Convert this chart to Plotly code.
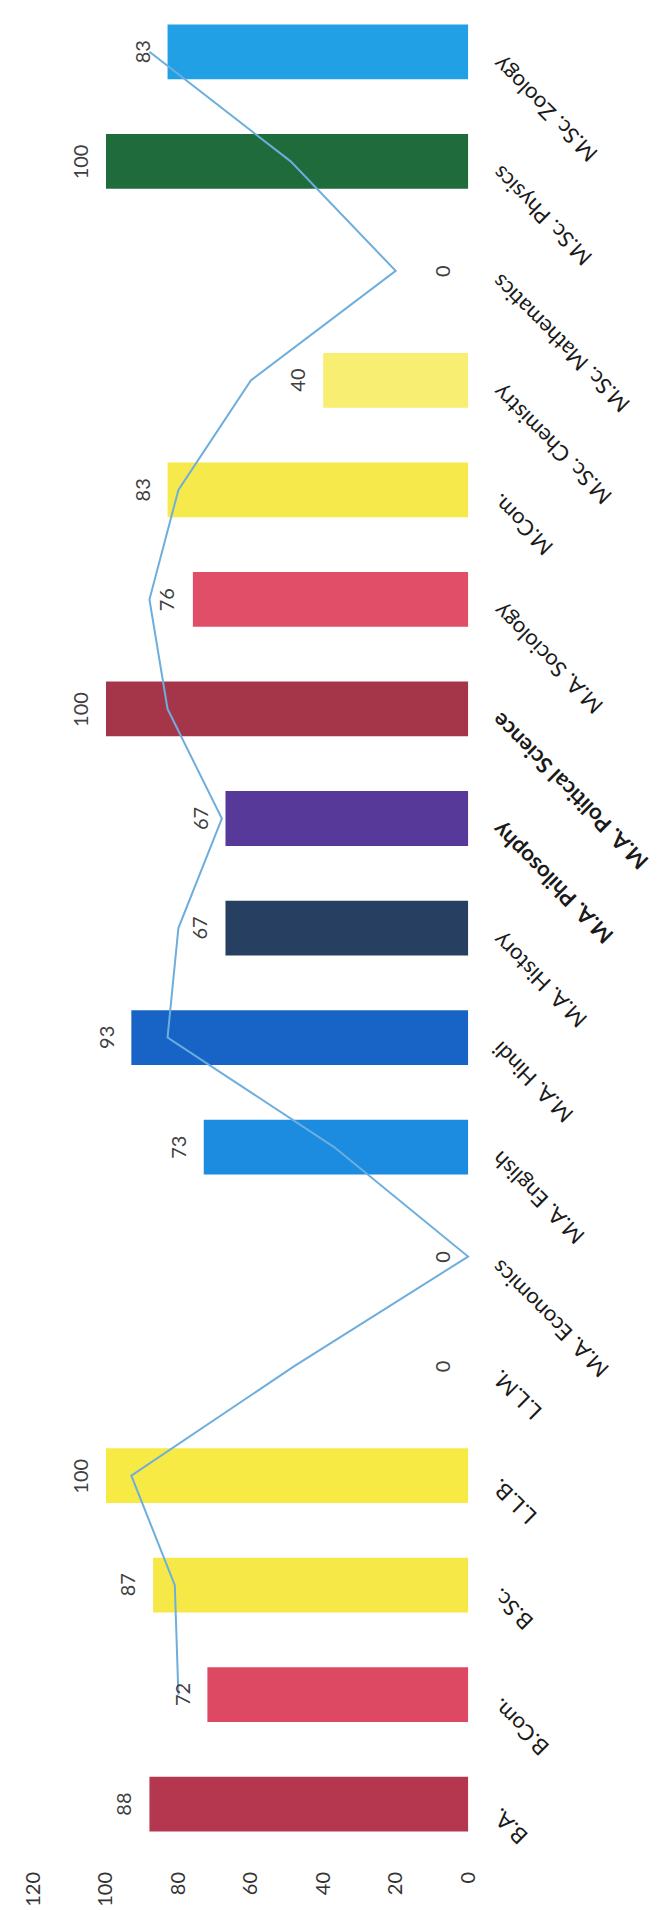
import plotly.graph_objects as go

categories = ["B.A.", "B.Com.", "B.Sc.", "L.L.B.", "L.L.M.", "M.A. Economics",
              "M.A. English", "M.A. Hindi", "M.A. History", "M.A. Philosophy",
              "M.A. Political Science", "M.A. Sociology", "M.Com.", "M.Sc. Chemistry",
              "M.Sc. Mathematics", "M.Sc. Physics", "M.Sc. Zoology"]
bar_values = [88, 72, 87, 100, 0, 0, 73, 93, 67, 67, 100, 76, 83, 40, 0, 100, 83]
line_values = [None, 80, 81, 93, 48, 0, 37, 83, 80, 68, 83, 88, 80, 60, 20, 49, 88]
bar_colors = ["#B5374F", "#DD4862", "#F6E947", "#F7EA45", "#F7EA45", "#F7EA45",
              "#1C8CE0", "#1764C6", "#273F61", "#57399A", "#A5364A", "#E04E67",
              "#F6E94C", "#F7EE72", "#F7EE72", "#1F6B3C", "#22A0E5"]
tick_values = [0, 20, 40, 60, 80, 100, 120]
bold_labels = ["M.A. Philosophy", "M.A. Political Science"]

FONT = "Lato, 'Open Sans', sans-serif"

fig = go.Figure()
fig.add_trace(go.Bar(
    x=bar_values, y=categories, orientation="h",
    marker=dict(color=bar_colors, line=dict(width=0)),
    width=0.5, showlegend=False, hoverinfo="skip"))
fig.add_trace(go.Scatter(
    x=line_values, y=categories, mode="lines",
    line=dict(color="#6DAEDD", width=2), connectgaps=False,
    showlegend=False, hoverinfo="skip"))

annotations = []
for cat, v in zip(categories, bar_values):
    annotations.append(dict(
        x=v, y=cat, xref="x", yref="y", text=str(v), showarrow=False,
        textangle=-90, xanchor="center", yanchor="middle", xshift=-26,
        font=dict(family=FONT, size=20, color="#404040")))
for cat in categories:
    txt = "<b>%s</b>" % cat if cat in bold_labels else cat
    annotations.append(dict(
        x=0, y=cat, xref="x", yref="y", text=txt, showarrow=False,
        textangle=-135, xanchor="left", yanchor="top", xshift=15, yshift=4,
        font=dict(family=FONT, size=22, color="#1a1a1a")))

fig.update_layout(
    width=659, height=1910,
    margin=dict(l=10, r=179, t=0, b=59),
    paper_bgcolor="white", plot_bgcolor="white",
    annotations=annotations,
    xaxis=dict(range=[124.3, -5.5], tickvals=tick_values, tickangle=-90,
               showgrid=False, zeroline=False, showline=False, ticks="",
               ticklabelstandoff=8,
               tickfont=dict(family=FONT, size=20, color="#333333")),
    yaxis=dict(type="category", categoryorder="array", categoryarray=categories,
               range=[-0.5, 16.4], showticklabels=False, showgrid=False,
               zeroline=False, showline=False, ticks=""),
)
fig.write_html("out.html")
